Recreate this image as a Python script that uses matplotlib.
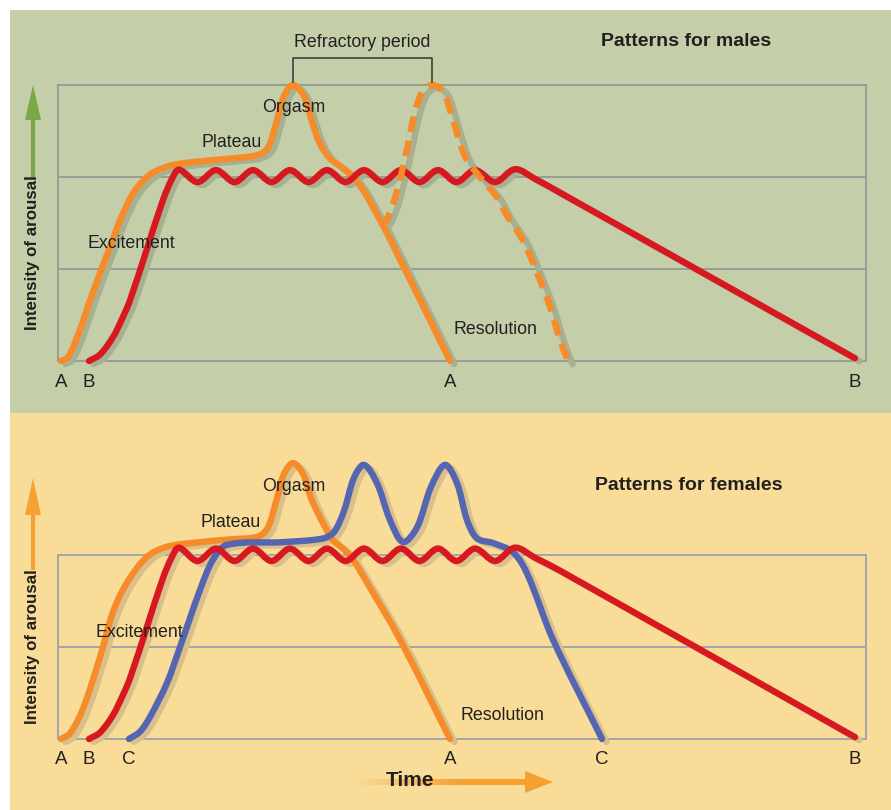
import numpy as np
import matplotlib
matplotlib.use("Agg")
import matplotlib.pyplot as plt
from matplotlib.path import Path
from matplotlib.patches import PathPatch, Rectangle, Polygon
from matplotlib.transforms import ScaledTranslation

plt.rcParams["font.family"] = ["Liberation Sans", "DejaVu Sans"]

# ---------------- data: time (arbitrary units) vs intensity of arousal ----------------
# Males, pattern A (single orgasm)
male_a_time = [61, 68, 80, 90, 110, 122, 133, 143, 155, 173, 200, 230, 258, 268, 276,
               284, 293, 304, 312, 320, 330, 340, 353, 363, 373, 387, 450]
male_a_level = [0.0, 0.04, 0.34, 0.66, 1.24, 1.58, 1.82, 1.96, 2.06, 2.13, 2.17, 2.20,
                2.24, 2.32, 2.58, 2.88, 3.0, 2.88, 2.60, 2.36, 2.20, 2.12, 2.0, 1.86,
                1.67, 1.39, 0.0]
# Males, pattern A after the refractory period (second orgasm)
male_a2_time = [381, 386, 392, 398, 403, 408, 414, 422, 432, 443, 452, 460, 467, 477,
                487, 497, 507, 523, 537, 550, 560, 568]
male_a2_level = [1.47, 1.52, 1.67, 1.89, 2.11, 2.35, 2.66, 2.92, 3.0, 2.93, 2.66, 2.37,
                 2.18, 2.04, 1.91, 1.78, 1.58, 1.31, 0.96, 0.59, 0.23, 0.0]
# Males, pattern B (plateau without orgasm)
male_b_time = [89, 100, 113, 123, 130, 147, 163, 172, 179, 197.5, 216, 234.5, 253, 271.5,
               290, 308.5, 327, 345.5, 364, 382.5, 401, 419.5, 438, 456.5, 475, 495,
               515, 535, 560, 855]
male_b_level = [0.0, 0.07, 0.26, 0.48, 0.66, 1.22, 1.75, 1.98, 2.08, 1.945, 2.075, 1.945,
                2.075, 1.945, 2.075, 1.945, 2.075, 1.945, 2.075, 1.945, 2.075, 1.945,
                2.075, 1.945, 2.075, 1.945, 2.085, 1.98, 1.83, 0.03]

# Females, pattern A (single orgasm)
female_a_time = [61, 70, 83, 100, 113, 127, 147, 167, 200, 230, 258, 268, 277, 284, 293,
                 303, 311, 320, 333, 343, 353, 367, 400, 450]
female_a_level = [0.0, 0.06, 0.33, 0.89, 1.38, 1.70, 1.98, 2.09, 2.14, 2.17, 2.20, 2.30,
                  2.62, 2.88, 3.0, 2.88, 2.62, 2.41, 2.16, 2.07, 1.95, 1.70, 1.08, 0.0]
# Females, pattern B (plateau without orgasm)
female_b_time = male_b_time
female_b_level = [0.0, 0.07, 0.26, 0.48, 0.66, 1.22, 1.75, 1.98, 2.08, 1.935, 2.07, 1.935,
                  2.07, 1.935, 2.07, 1.935, 2.07, 1.935, 2.07, 1.935, 2.07, 1.935, 2.07,
                  1.935, 2.07, 1.935, 2.08, 1.97, 1.83, 0.02]
# Females, pattern C (multiple orgasms)
female_c_time = [129, 140, 150, 167, 180, 200, 213, 227, 283, 323, 334, 344, 354, 364, 377,
                 390, 403, 417, 431, 445, 457, 467, 477, 493, 513, 527, 553, 602]
female_c_level = [0.0, 0.08, 0.24, 0.61, 1.0, 1.62, 1.95, 2.11, 2.14, 2.18, 2.25, 2.48,
                  2.84, 2.98, 2.78, 2.38, 2.14, 2.30, 2.74, 2.98, 2.78, 2.38, 2.18, 2.13,
                  2.03, 1.80, 1.08, 0.0]

# ---------------- styling ----------------
ORANGE = "#f68b29"
RED = "#d7191f"
BLUE = "#5465b1"
TEXT = "#231f20"
GREEN_BG = "#c4cea8"
BEIGE_BG = "#f8dc98"
GREEN_SHADOW = "#a7b192"
BEIGE_SHADOW = "#d8bf8b"
LW = 4.6
LEVEL_PX = 92  # pixel height of one intensity band

W, H = 891, 810
fig = plt.figure(figsize=(W / 100, H / 100), dpi=100)

# background canvas in pixel units
bg = fig.add_axes([0, 0, 1, 1])
bg.set_xlim(0, W)
bg.set_ylim(H, 0)
bg.axis("off")
bg.add_patch(Rectangle((10, 10), W - 10, 403, color=GREEN_BG, lw=0, zorder=0))
bg.add_patch(Rectangle((10, 413), W - 10, H - 413, color=BEIGE_BG, lw=0, zorder=0))


def px_axes(x0, x1, y_top, y_bot):
    return fig.add_axes([x0 / W, 1 - y_bot / H, (x1 - x0) / W, (y_bot - y_top) / H])


def smooth_path(xs, ys):
    """Smooth cubic Bezier path through the points (chord-weighted Catmull-Rom)."""
    P = np.column_stack([xs, ys]).astype(float)
    S = np.array([1.0, LEVEL_PX])
    n = len(P)

    def dist(a, b):
        return float(np.hypot(*((b - a) * S)))

    verts = [P[0]]
    codes = [Path.MOVETO]
    for i in range(n - 1):
        p0 = P[i - 1] if i > 0 else P[i]
        p1, p2 = P[i], P[i + 1]
        p3 = P[i + 2] if i + 2 < n else P[i + 1]
        d01, d12, d23 = dist(p0, p1), dist(p1, p2), dist(p2, p3)
        w1 = d12 / (d01 + d12) if d01 + d12 > 0 else 0.5
        w2 = d12 / (d12 + d23) if d12 + d23 > 0 else 0.5
        verts += [p1 + (p2 - p0) * w1 / 3, p2 - (p3 - p1) * w2 / 3, p2]
        codes += [Path.CURVE4] * 3
    return Path(verts, codes)


def draw_shadow(ax, xs, ys, shadow):
    off = ax.transData + ScaledTranslation(0.045, -0.03, fig.dpi_scale_trans)
    ax.add_patch(PathPatch(smooth_path(xs, ys), fill=False, ec=shadow, lw=LW,
                           transform=off, capstyle="round", joinstyle="round",
                           zorder=2, clip_on=False))


def draw_curve(ax, xs, ys, color, z, ls="-"):
    ax.add_patch(PathPatch(smooth_path(xs, ys), fill=False, ec=color, lw=LW, ls=ls,
                           capstyle="round" if ls == "-" else "butt",
                           joinstyle="round", zorder=z, clip_on=False))


def frame(ax, nlev, grid_color):
    ax.set_xlim(58, 866)
    ax.set_ylim(0, nlev)
    ax.patch.set_visible(False)
    for s in ax.spines.values():
        s.set_color(grid_color)
        s.set_linewidth(1.4)
        s.set_zorder(1)
    for lev in range(1, nlev):
        ax.axhline(lev, color=grid_color, lw=1.4, zorder=1)
    ax.set_yticks([])
    ax.tick_params(axis="x", length=0, pad=9, labelsize=13.5, labelcolor=TEXT)


def label(ax, x, y, s, size=12.8, **kw):
    ax.text(x, y, s, ha="center", va="center", color=TEXT, fontsize=size, zorder=10,
            clip_on=False, **kw)


# ---------------- males ----------------
ax1 = px_axes(58, 866, 85, 361)
frame(ax1, 3, "#979c95")
for xs, ys in [(male_a_time, male_a_level), (male_a2_time, male_a2_level),
               (male_b_time, male_b_level)]:
    draw_shadow(ax1, xs, ys, GREEN_SHADOW)
draw_curve(ax1, male_a_time, male_a_level, ORANGE, 3)
draw_curve(ax1, male_b_time, male_b_level, RED, 4)
draw_curve(ax1, male_a2_time, male_a2_level, ORANGE, 5, ls=(0, (2.5, 1.4)))
ax1.set_xticks([male_a_time[0], male_b_time[0], male_a_time[-1], male_b_time[-1]],
               ["A", "B", "A", "B"])

# refractory period bracket between the two orgasm peaks
p1 = male_a_time[int(np.argmax(male_a_level))]
p2 = male_a2_time[int(np.argmax(male_a2_level))]
ax1.plot([p1, p1, p2, p2], [3.03, 3.29, 3.29, 3.03], color="#333333", lw=1.1,
         clip_on=False, zorder=5)
label(ax1, (p1 + p2) / 2, 3.46, "Refractory period")
label(ax1, 686, 3.47, "Patterns for males", size=14, fontweight="bold")
label(ax1, 294, 2.76, "Orgasm")
label(ax1, 232, 2.38, "Plateau")
label(ax1, 131, 1.28, "Excitement")
label(ax1, 495, 0.34, "Resolution")

# ---------------- females ----------------
ax2 = px_axes(58, 866, 555, 739)
frame(ax2, 2, "#a2a5ad")
for xs, ys in [(female_a_time, female_a_level), (female_c_time, female_c_level),
               (female_b_time, female_b_level)]:
    draw_shadow(ax2, xs, ys, BEIGE_SHADOW)
draw_curve(ax2, female_a_time, female_a_level, ORANGE, 3)
draw_curve(ax2, female_c_time, female_c_level, BLUE, 4)
draw_curve(ax2, female_b_time, female_b_level, RED, 5)
ax2.set_xticks([female_a_time[0], female_b_time[0], female_c_time[0],
                female_a_time[-1], female_c_time[-1], female_b_time[-1]],
               ["A", "B", "C", "A", "C", "B"])
label(ax2, 689, 2.76, "Patterns for females", size=14, fontweight="bold")
label(ax2, 294, 2.74, "Orgasm")
label(ax2, 231, 2.35, "Plateau")
label(ax2, 139, 1.16, "Excitement")
label(ax2, 502, 0.25, "Resolution")

# ---------------- axis arrows and titles ----------------
for (tip, base, tail, col, yc) in [(85, 120, 178, "#7aa847", 253),
                                   (478, 515, 570, "#f5a133", 647)]:
    bg.plot([33, 33], [base - 2, tail], color=col, lw=3, solid_capstyle="butt", zorder=2)
    bg.add_patch(Polygon([(33, tip), (25, base), (41, base)], closed=True, color=col,
                         lw=0, zorder=2))
    bg.text(33, yc, "Intensity of arousal", rotation=90, ha="center", va="center",
            fontsize=12.2, fontweight="bold", color=TEXT, zorder=3)

# time arrow with a shaft fading in from the left
grad = np.zeros((1, 256, 4))
grad[..., :3] = matplotlib.colors.to_rgb("#f6a030")
grad[..., 3] = np.clip(np.linspace(0, 1.6, 256), 0, 1)
bg.imshow(grad, extent=(355, 527, 785, 779), aspect="auto", interpolation="bilinear",
          zorder=2)
bg.add_patch(Polygon([(525, 771), (553, 782), (525, 793)], closed=True, color="#f6a030",
                     lw=0, zorder=2))
bg.text(410, 781, "Time", ha="center", va="center", fontsize=15, fontweight="bold",
        color=TEXT, zorder=5)
bg.set_xlim(0, W)
bg.set_ylim(H, 0)

fig.savefig("out.png", dpi=100)
